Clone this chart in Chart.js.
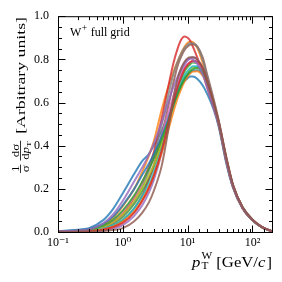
<!DOCTYPE html>
<html><head><meta charset="utf-8">
<script src="https://cdn.jsdelivr.net/npm/chart.js@4.4.0/dist/chart.umd.min.js"></script>
<style>html,body{margin:0;padding:0;background:#fff;}canvas{display:block;}</style>
</head><body>
<canvas id="c" width="282" height="282"></canvas>
<script>
// transverse momentum grid (GeV/c)
const pT = [0.1,0.2,0.3,0.5,0.7,1,1.5,2,2.5,3,4,5,6,7,8,9,10,11,12,14,17,20,25,30,40,50,70,100,140,200];

// normalised distributions, one per grid variant
const variant00 = [0.004,0.010,0.018,0.055,0.105,0.18,0.27,0.33,0.36,0.40,0.47,0.54,0.60,0.645,0.68,0.70,0.713,0.72,0.72,0.71,0.68,0.64,0.57,0.49,0.31,0.205,0.11,0.054,0.022,0.003];
const variant01 = [0.002,0.006,0.011,0.033,0.065,0.12,0.20,0.28,0.35,0.42,0.57,0.67,0.74,0.79,0.83,0.86,0.877,0.883,0.88,0.855,0.785,0.70,0.60,0.51,0.33,0.215,0.115,0.056,0.023,0.003];
const variant02 = [0.001,0.004,0.008,0.02,0.038,0.07,0.13,0.19,0.245,0.30,0.41,0.51,0.60,0.665,0.71,0.745,0.765,0.778,0.785,0.783,0.75,0.695,0.60,0.51,0.33,0.214,0.114,0.056,0.022,0.003];
const variant03 = [0.001,0.004,0.008,0.022,0.045,0.085,0.16,0.23,0.30,0.37,0.53,0.67,0.78,0.85,0.893,0.906,0.90,0.885,0.86,0.81,0.74,0.67,0.58,0.50,0.32,0.21,0.11,0.054,0.022,0.003];
const variant04 = [0,0.001,0.003,0.008,0.016,0.032,0.075,0.125,0.18,0.24,0.37,0.50,0.61,0.69,0.74,0.775,0.795,0.805,0.81,0.80,0.76,0.70,0.60,0.51,0.33,0.215,0.114,0.056,0.023,0.003];
const variant05 = [0.001,0.002,0.005,0.014,0.028,0.055,0.11,0.17,0.24,0.31,0.45,0.58,0.69,0.77,0.815,0.845,0.86,0.868,0.87,0.86,0.81,0.73,0.62,0.52,0.34,0.22,0.117,0.058,0.024,0.004];
const variant06 = [0.002,0.005,0.01,0.028,0.052,0.095,0.165,0.23,0.29,0.345,0.45,0.55,0.63,0.69,0.73,0.76,0.777,0.787,0.79,0.785,0.75,0.695,0.60,0.51,0.33,0.214,0.114,0.056,0.022,0.003];
const variant07 = [0.001,0.003,0.007,0.02,0.04,0.075,0.14,0.21,0.28,0.35,0.50,0.63,0.73,0.79,0.83,0.855,0.868,0.875,0.875,0.86,0.80,0.72,0.61,0.515,0.335,0.218,0.116,0.057,0.023,0.004];
const variant08 = [0.001,0.004,0.009,0.024,0.045,0.082,0.145,0.205,0.26,0.31,0.41,0.50,0.585,0.645,0.69,0.722,0.743,0.756,0.763,0.763,0.74,0.69,0.595,0.505,0.325,0.212,0.113,0.055,0.022,0.003];
const variant09 = [0.001,0.003,0.006,0.016,0.03,0.056,0.11,0.165,0.22,0.275,0.385,0.49,0.58,0.645,0.69,0.725,0.745,0.76,0.768,0.768,0.74,0.69,0.595,0.505,0.325,0.212,0.113,0.055,0.022,0.003];
const variant10 = [0.003,0.008,0.014,0.038,0.07,0.125,0.2,0.265,0.315,0.36,0.445,0.52,0.59,0.64,0.68,0.708,0.727,0.74,0.748,0.75,0.73,0.685,0.59,0.50,0.32,0.21,0.112,0.055,0.022,0.003];
const variant11 = [0.001,0.002,0.005,0.013,0.025,0.048,0.095,0.15,0.205,0.26,0.37,0.47,0.555,0.62,0.665,0.698,0.72,0.735,0.743,0.745,0.725,0.68,0.59,0.50,0.32,0.21,0.112,0.055,0.022,0.003];
const variant12 = [0.002,0.006,0.011,0.03,0.055,0.10,0.17,0.235,0.29,0.34,0.43,0.51,0.585,0.64,0.68,0.71,0.73,0.745,0.755,0.76,0.74,0.69,0.595,0.505,0.325,0.212,0.113,0.055,0.022,0.003];
const variant13 = [0.001,0.002,0.004,0.011,0.022,0.042,0.09,0.145,0.20,0.26,0.38,0.50,0.60,0.67,0.72,0.755,0.775,0.787,0.793,0.79,0.76,0.70,0.60,0.51,0.33,0.215,0.114,0.056,0.023,0.003];
const variant14 = [0.003,0.007,0.013,0.04,0.08,0.145,0.235,0.30,0.355,0.41,0.51,0.60,0.67,0.72,0.76,0.785,0.80,0.805,0.80,0.78,0.73,0.67,0.58,0.50,0.32,0.21,0.112,0.055,0.022,0.003];
const variant15 = [0,0.001,0.002,0.005,0.009,0.018,0.05,0.09,0.135,0.19,0.31,0.47,0.62,0.71,0.76,0.79,0.805,0.81,0.81,0.80,0.76,0.70,0.60,0.51,0.335,0.218,0.116,0.057,0.023,0.004];

const xTickLabels = {'-1':'10\u207B\u00B9','0':'10\u2070','1':'10\u00B9','2':'10\u00B2'};
const yTickStep = 0.2;
const annotation = 'full grid';

const series = [variant00,variant01,variant02,variant03,variant04,variant05,variant06,variant07,
                variant08,variant09,variant10,variant11,variant12,variant13,variant14,variant15];
const COLORS = ['#1f77b4','#ff7f0e','#2ca02c','#d62728','#9467bd','#8c564b','#e377c2','#7f7f7f','#bcbd22','#17becf'];
function rgba(hex,a){const n=parseInt(hex.slice(1),16);return `rgba(${n>>16&255},${n>>8&255},${n&255},${a})`;}
const FAM = '"Liberation Serif", "DejaVu Serif", serif';
function isPow10(v){const l=Math.log10(v);return Math.abs(l-Math.round(l))<1e-6;}

const datasets = series.map((vals,i)=>({
  data: vals.map((y,j)=>({x:pT[j], y:y})),
  borderColor: rgba(COLORS[i%10],0.8),
  borderWidth: 2,
  pointRadius: 0,
  cubicInterpolationMode: 'monotone',
  fill: false,
  order: series.length - i
}));

const decor = {
  id:'decor',
  afterDraw(chart){
    const {ctx, chartArea:a, scales:{x,y}} = chart;
    ctx.save();
    ctx.strokeStyle='#000'; ctx.fillStyle='#000'; ctx.lineWidth=1;
    ctx.strokeRect(a.left+0.5, a.top+0.5, a.right-a.left, a.bottom-a.top);
    ctx.beginPath();
    x.ticks.forEach(t=>{
      const px = Math.round(x.getPixelForValue(t.value))+0.5;
      if (px < a.left || px > a.right) return;
      const len = isPow10(t.value) ? 7 : 3.5;
      ctx.moveTo(px, a.bottom+0.5); ctx.lineTo(px, a.bottom+0.5-len);
      ctx.moveTo(px, a.top+0.5); ctx.lineTo(px, a.top+0.5+len);
    });
    for (let k=0;k<=20;k++){
      const v=k*0.05;
      const py = Math.round(y.getPixelForValue(v))+0.5;
      const len = (k%4===0) ? 7 : 3.5;
      ctx.moveTo(a.left+0.5, py); ctx.lineTo(a.left+0.5+len, py);
      ctx.moveTo(a.right+0.5, py); ctx.lineTo(a.right+0.5-len, py);
    }
    ctx.stroke();

    // annotation W+ full grid
    ctx.textBaseline='alphabetic'; ctx.textAlign='left';
    let tx = 70;
    ctx.font = `12px ${FAM}`; ctx.fillText('W', tx, 36); tx += ctx.measureText('W').width;
    ctx.font = `9.5px ${FAM}`; ctx.fillText('+', tx+0.5, 31); tx += ctx.measureText('+').width+1;
    ctx.font = `12px ${FAM}`; ctx.fillText(' '+annotation, tx, 36);

    // x title
    {
      const F=15;
      ctx.font=`italic ${F}px ${FAM}`; const wp=ctx.measureText('p').width;
      ctx.font=`${F*0.68}px ${FAM}`; const wsub=Math.max(ctx.measureText('W').width, ctx.measureText('T').width);
      ctx.font=`${F}px ${FAM}`; const w1=ctx.measureText(' [GeV/').width;
      ctx.font=`italic ${F}px ${FAM}`; const wc=ctx.measureText('c').width;
      ctx.font=`${F}px ${FAM}`; const w2=ctx.measureText(']').width;
      const total = wp+1+wsub+w1+wc+1+w2;
      const target = 80, s = target/total;
      ctx.save(); ctx.translate(a.right-target, 267); ctx.scale(s,1);
      let cx=0;
      ctx.font=`italic ${F}px ${FAM}`; ctx.fillText('p',0,0); cx+=wp+1;
      ctx.font=`${F*0.68}px ${FAM}`; ctx.fillText('W',cx,-8); ctx.fillText('T',cx,2); cx+=wsub;
      ctx.font=`${F}px ${FAM}`; ctx.fillText(' [GeV/',cx,0); cx+=w1;
      ctx.font=`italic ${F}px ${FAM}`; ctx.fillText('c',cx,0); cx+=wc+1;
      ctx.font=`${F}px ${FAM}`; ctx.fillText(']',cx,0);
      ctx.restore();
    }
    // y title
    {
      const fs=9.5, F=13;
      ctx.font=`${fs}px ${FAM}`;
      const fw1 = Math.max(ctx.measureText('1').width, ctx.measureText('\u03C3').width)+1;
      const wnum2 = ctx.measureText('d\u03C3').width;
      ctx.font=`${fs}px ${FAM}`; const wd=ctx.measureText('d').width;
      ctx.font=`italic ${fs}px ${FAM}`; const wpp=ctx.measureText('p').width;
      ctx.font=`${fs*0.7}px ${FAM}`; const wT=ctx.measureText('T').width;
      const wden2 = wd+wpp+wT;
      const fw2 = Math.max(wnum2,wden2)+1;
      ctx.font=`${F}px ${FAM}`; const wl=ctx.measureText('[Arbitrary units]').width;
      const total = fw1+3+fw2+5+wl;
      const target = 173-17, s = target/total;
      ctx.save(); ctx.translate(20.5,173); ctx.rotate(-Math.PI/2); ctx.scale(s,1);
      ctx.textAlign='center';
      ctx.font=`${fs}px ${FAM}`;
      ctx.fillText('1', fw1/2, -2);
      ctx.fillText('\u03C3', fw1/2, 8);
      ctx.fillRect(0,-0.4,fw1,0.8);
      let ox = fw1+3;
      ctx.fillText('d\u03C3', ox+fw2/2, -2);
      ctx.fillRect(ox,-0.4,fw2,0.8);
      ctx.textAlign='left';
      let dx = ox+(fw2-wden2)/2;
      ctx.font=`${fs}px ${FAM}`; ctx.fillText('d',dx,8); dx+=wd;
      ctx.font=`italic ${fs}px ${FAM}`; ctx.fillText('p',dx,8); dx+=wpp;
      ctx.font=`${fs*0.7}px ${FAM}`; ctx.fillText('T',dx,10);
      ox += fw2+5;
      ctx.font=`${F}px ${FAM}`; ctx.fillText('[Arbitrary units]', ox, 4.5);
      ctx.restore();
    }
    ctx.restore();
  }
};

new Chart(document.getElementById('c'), {
  type:'line',
  data:{datasets},
  options:{
    responsive:false, animation:false, devicePixelRatio:1,
    layout:{padding:{top:14,right:10,left:0,bottom:0}},
    plugins:{legend:{display:false}, tooltip:{enabled:false}},
    scales:{
      x:{type:'logarithmic', min:0.1, max:200,
         grid:{display:false, drawTicks:false}, border:{display:false},
         ticks:{autoSkip:false, maxRotation:0, padding:4, color:'#000', font:{family:FAM, size:12},
                callback:(v)=>{ if(!isPow10(v)) return ''; const k=String(Math.round(Math.log10(v))); return xTickLabels[k]||''; }},
         afterFit:(s)=>{s.height=50;}},
      y:{min:0, max:1,
         grid:{display:false, drawTicks:false}, border:{display:false},
         ticks:{stepSize:yTickStep, padding:9, color:'#000', font:{family:FAM, size:12},
                callback:(v)=>Number(v).toFixed(1)},
         afterFit:(s)=>{s.width=58;}}
    }
  },
  plugins:[decor]
});
</script>
</body></html>
